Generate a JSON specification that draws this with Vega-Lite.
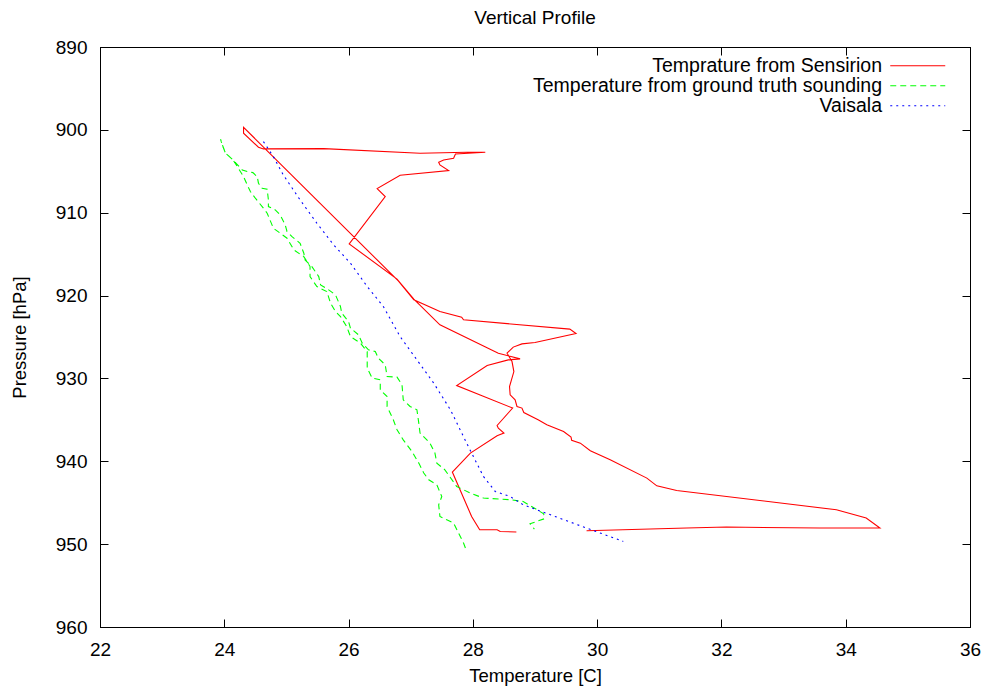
{
  "$schema": "https://vega.github.io/schema/vega-lite/v6.json",
  "width": 870,
  "height": 580,
  "autosize": {"type": "none"},
  "padding": {"left": 100, "top": 47, "right": 20, "bottom": 65},
  "background": "white",
  "config": {
    "font": "Liberation Sans",
    "view": {"stroke": "black", "strokeWidth": 1},
    "axis": {"grid": false, "domainColor": "black", "tickColor": "black", "labelColor": "black", "titleColor": "black", "labelFontSize": 19, "titleFontSize": 18.5, "titleFontWeight": "normal", "tickSize": -8, "labelFont": "Liberation Sans", "titleFont": "Liberation Sans"}
  },
  "title": {"text": "Vertical Profile", "fontSize": 19, "fontWeight": "normal", "font": "Liberation Sans", "color": "black", "offset": 10},
  "data": {"values": [
    {"series": "Temprature from Sensirion", "i": 1, "T": 28.70, "P": 948.54},
    {"series": "Temprature from Sensirion", "i": 2, "T": 28.44, "P": 948.47},
    {"series": "Temprature from Sensirion", "i": 3, "T": 28.39, "P": 948.26},
    {"series": "Temprature from Sensirion", "i": 4, "T": 28.11, "P": 948.26},
    {"series": "Temprature from Sensirion", "i": 5, "T": 27.98, "P": 946.66},
    {"series": "Temprature from Sensirion", "i": 6, "T": 27.67, "P": 941.30},
    {"series": "Temprature from Sensirion", "i": 7, "T": 27.96, "P": 939.01},
    {"series": "Temprature from Sensirion", "i": 8, "T": 28.39, "P": 936.92},
    {"series": "Temprature from Sensirion", "i": 9, "T": 28.50, "P": 936.60},
    {"series": "Temprature from Sensirion", "i": 10, "T": 28.41, "P": 936.00},
    {"series": "Temprature from Sensirion", "i": 11, "T": 28.39, "P": 935.68},
    {"series": "Temprature from Sensirion", "i": 12, "T": 28.64, "P": 933.58},
    {"series": "Temprature from Sensirion", "i": 13, "T": 27.74, "P": 930.86},
    {"series": "Temprature from Sensirion", "i": 14, "T": 28.23, "P": 928.44},
    {"series": "Temprature from Sensirion", "i": 15, "T": 28.57, "P": 927.76},
    {"series": "Temprature from Sensirion", "i": 16, "T": 28.76, "P": 927.64},
    {"series": "Temprature from Sensirion", "i": 17, "T": 28.41, "P": 926.95},
    {"series": "Temprature from Sensirion", "i": 18, "T": 27.47, "P": 923.53},
    {"series": "Temprature from Sensirion", "i": 19, "T": 27.05, "P": 920.43},
    {"series": "Temprature from Sensirion", "i": 20, "T": 26.78, "P": 918.02},
    {"series": "Temprature from Sensirion", "i": 21, "T": 26.01, "P": 913.76},
    {"series": "Temprature from Sensirion", "i": 22, "T": 26.59, "P": 908.06},
    {"series": "Temprature from Sensirion", "i": 23, "T": 26.46, "P": 907.09},
    {"series": "Temprature from Sensirion", "i": 24, "T": 26.83, "P": 905.48},
    {"series": "Temprature from Sensirion", "i": 25, "T": 27.61, "P": 904.92},
    {"series": "Temprature from Sensirion", "i": 26, "T": 27.47, "P": 904.23},
    {"series": "Temprature from Sensirion", "i": 27, "T": 27.45, "P": 903.91},
    {"series": "Temprature from Sensirion", "i": 28, "T": 27.53, "P": 903.63},
    {"series": "Temprature from Sensirion", "i": 29, "T": 27.69, "P": 903.43},
    {"series": "Temprature from Sensirion", "i": 30, "T": 27.72, "P": 902.91},
    {"series": "Temprature from Sensirion", "i": 31, "T": 28.20, "P": 902.70},
    {"series": "Temprature from Sensirion", "i": 32, "T": 27.90, "P": 902.70},
    {"series": "Temprature from Sensirion", "i": 33, "T": 27.15, "P": 902.82},
    {"series": "Temprature from Sensirion", "i": 34, "T": 25.60, "P": 902.27},
    {"series": "Temprature from Sensirion", "i": 35, "T": 24.63, "P": 902.30},
    {"series": "Temprature from Sensirion", "i": 36, "T": 24.55, "P": 902.10},
    {"series": "Temprature from Sensirion", "i": 37, "T": 24.31, "P": 900.41},
    {"series": "Temprature from Sensirion", "i": 38, "T": 24.31, "P": 899.69},
    {"series": "Temprature from Sensirion", "i": 41, "T": 26.80, "P": 918.23},
    {"series": "Temprature from Sensirion", "i": 42, "T": 27.05, "P": 920.50},
    {"series": "Temprature from Sensirion", "i": 43, "T": 27.47, "P": 921.93},
    {"series": "Temprature from Sensirion", "i": 44, "T": 27.82, "P": 922.61},
    {"series": "Temprature from Sensirion", "i": 45, "T": 27.85, "P": 922.93},
    {"series": "Temprature from Sensirion", "i": 46, "T": 29.56, "P": 924.05},
    {"series": "Temprature from Sensirion", "i": 47, "T": 29.66, "P": 924.58},
    {"series": "Temprature from Sensirion", "i": 48, "T": 29.00, "P": 925.67},
    {"series": "Temprature from Sensirion", "i": 49, "T": 28.79, "P": 925.83},
    {"series": "Temprature from Sensirion", "i": 50, "T": 28.65, "P": 926.22},
    {"series": "Temprature from Sensirion", "i": 51, "T": 28.55, "P": 926.95},
    {"series": "Temprature from Sensirion", "i": 52, "T": 28.63, "P": 927.96},
    {"series": "Temprature from Sensirion", "i": 53, "T": 28.66, "P": 929.17},
    {"series": "Temprature from Sensirion", "i": 54, "T": 28.59, "P": 930.98},
    {"series": "Temprature from Sensirion", "i": 55, "T": 28.60, "P": 931.98},
    {"series": "Temprature from Sensirion", "i": 56, "T": 28.68, "P": 932.58},
    {"series": "Temprature from Sensirion", "i": 57, "T": 28.71, "P": 933.39},
    {"series": "Temprature from Sensirion", "i": 58, "T": 28.79, "P": 933.58},
    {"series": "Temprature from Sensirion", "i": 59, "T": 28.82, "P": 934.11},
    {"series": "Temprature from Sensirion", "i": 60, "T": 29.05, "P": 934.99},
    {"series": "Temprature from Sensirion", "i": 61, "T": 29.19, "P": 935.60},
    {"series": "Temprature from Sensirion", "i": 62, "T": 29.46, "P": 936.41},
    {"series": "Temprature from Sensirion", "i": 63, "T": 29.58, "P": 937.08},
    {"series": "Temprature from Sensirion", "i": 64, "T": 29.59, "P": 937.47},
    {"series": "Temprature from Sensirion", "i": 65, "T": 29.73, "P": 937.81},
    {"series": "Temprature from Sensirion", "i": 66, "T": 29.89, "P": 938.73},
    {"series": "Temprature from Sensirion", "i": 67, "T": 30.21, "P": 939.82},
    {"series": "Temprature from Sensirion", "i": 68, "T": 30.80, "P": 942.03},
    {"series": "Temprature from Sensirion", "i": 69, "T": 30.96, "P": 942.96},
    {"series": "Temprature from Sensirion", "i": 70, "T": 31.28, "P": 943.52},
    {"series": "Temprature from Sensirion", "i": 71, "T": 33.85, "P": 945.85},
    {"series": "Temprature from Sensirion", "i": 72, "T": 34.33, "P": 946.85},
    {"series": "Temprature from Sensirion", "i": 73, "T": 34.55, "P": 948.06},
    {"series": "Temprature from Sensirion", "i": 74, "T": 33.58, "P": 948.06},
    {"series": "Temprature from Sensirion", "i": 75, "T": 32.08, "P": 947.94},
    {"series": "Temprature from Sensirion", "i": 76, "T": 31.44, "P": 948.06},
    {"series": "Temprature from Sensirion", "i": 77, "T": 29.83, "P": 948.38},

    {"series": "Temperature from ground truth sounding", "i": 1, "T": 27.88, "P": 950.47},
    {"series": "Temperature from ground truth sounding", "i": 2, "T": 27.85, "P": 949.87},
    {"series": "Temperature from ground truth sounding", "i": 3, "T": 27.77, "P": 948.66},
    {"series": "Temperature from ground truth sounding", "i": 4, "T": 27.69, "P": 947.46},
    {"series": "Temperature from ground truth sounding", "i": 5, "T": 27.58, "P": 947.06},
    {"series": "Temperature from ground truth sounding", "i": 6, "T": 27.47, "P": 946.66},
    {"series": "Temperature from ground truth sounding", "i": 7, "T": 27.45, "P": 945.25},
    {"series": "Temperature from ground truth sounding", "i": 8, "T": 27.50, "P": 944.25},
    {"series": "Temperature from ground truth sounding", "i": 9, "T": 27.42, "P": 942.83},
    {"series": "Temperature from ground truth sounding", "i": 10, "T": 27.29, "P": 942.23},
    {"series": "Temperature from ground truth sounding", "i": 11, "T": 27.21, "P": 941.42},
    {"series": "Temperature from ground truth sounding", "i": 12, "T": 27.13, "P": 940.22},
    {"series": "Temperature from ground truth sounding", "i": 13, "T": 27.02, "P": 938.82},
    {"series": "Temperature from ground truth sounding", "i": 14, "T": 26.88, "P": 937.41},
    {"series": "Temperature from ground truth sounding", "i": 15, "T": 26.78, "P": 936.20},
    {"series": "Temperature from ground truth sounding", "i": 16, "T": 26.72, "P": 934.99},
    {"series": "Temperature from ground truth sounding", "i": 17, "T": 26.62, "P": 933.39},
    {"series": "Temperature from ground truth sounding", "i": 18, "T": 26.62, "P": 932.18},
    {"series": "Temperature from ground truth sounding", "i": 19, "T": 26.51, "P": 931.38},
    {"series": "Temperature from ground truth sounding", "i": 20, "T": 26.51, "P": 930.17},
    {"series": "Temperature from ground truth sounding", "i": 21, "T": 26.38, "P": 929.96},
    {"series": "Temperature from ground truth sounding", "i": 22, "T": 26.30, "P": 928.76},
    {"series": "Temperature from ground truth sounding", "i": 23, "T": 26.30, "P": 926.76},
    {"series": "Temperature from ground truth sounding", "i": 24, "T": 26.19, "P": 925.74},
    {"series": "Temperature from ground truth sounding", "i": 25, "T": 26.03, "P": 924.95},
    {"series": "Temperature from ground truth sounding", "i": 26, "T": 25.97, "P": 923.74},
    {"series": "Temperature from ground truth sounding", "i": 27, "T": 25.87, "P": 922.53},
    {"series": "Temperature from ground truth sounding", "i": 28, "T": 25.79, "P": 921.93},
    {"series": "Temperature from ground truth sounding", "i": 29, "T": 25.71, "P": 920.92},
    {"series": "Temperature from ground truth sounding", "i": 30, "T": 25.65, "P": 919.52},
    {"series": "Temperature from ground truth sounding", "i": 31, "T": 25.49, "P": 918.91},
    {"series": "Temperature from ground truth sounding", "i": 32, "T": 25.38, "P": 917.71},
    {"series": "Temperature from ground truth sounding", "i": 33, "T": 25.38, "P": 916.50},
    {"series": "Temperature from ground truth sounding", "i": 34, "T": 25.28, "P": 915.30},
    {"series": "Temperature from ground truth sounding", "i": 35, "T": 25.12, "P": 914.49},
    {"series": "Temperature from ground truth sounding", "i": 36, "T": 25.01, "P": 913.08},
    {"series": "Temperature from ground truth sounding", "i": 37, "T": 24.90, "P": 912.47},
    {"series": "Temperature from ground truth sounding", "i": 38, "T": 24.79, "P": 911.87},
    {"series": "Temperature from ground truth sounding", "i": 39, "T": 24.69, "P": 910.06},
    {"series": "Temperature from ground truth sounding", "i": 40, "T": 24.63, "P": 909.46},
    {"series": "Temperature from ground truth sounding", "i": 41, "T": 24.50, "P": 908.25},
    {"series": "Temperature from ground truth sounding", "i": 42, "T": 24.42, "P": 907.45},
    {"series": "Temperature from ground truth sounding", "i": 43, "T": 24.37, "P": 906.65},
    {"series": "Temperature from ground truth sounding", "i": 44, "T": 24.31, "P": 905.65},
    {"series": "Temperature from ground truth sounding", "i": 45, "T": 24.21, "P": 904.44},
    {"series": "Temperature from ground truth sounding", "i": 46, "T": 24.14, "P": 903.63},
    {"series": "Temperature from ground truth sounding", "i": 47, "T": 24.07, "P": 903.15},
    {"series": "Temperature from ground truth sounding", "i": 48, "T": 24.02, "P": 902.82},
    {"series": "Temperature from ground truth sounding", "i": 49, "T": 23.99, "P": 902.22},
    {"series": "Temperature from ground truth sounding", "i": 50, "T": 23.96, "P": 901.62},
    {"series": "Temperature from ground truth sounding", "i": 51, "T": 23.94, "P": 901.13},
    {"series": "Temperature from ground truth sounding", "i": 52, "T": 23.97, "P": 901.90},
    {"series": "Temperature from ground truth sounding", "i": 53, "T": 24.02, "P": 902.82},
    {"series": "Temperature from ground truth sounding", "i": 54, "T": 24.14, "P": 903.63},
    {"series": "Temperature from ground truth sounding", "i": 55, "T": 24.29, "P": 904.84},
    {"series": "Temperature from ground truth sounding", "i": 56, "T": 24.37, "P": 905.04},
    {"series": "Temperature from ground truth sounding", "i": 57, "T": 24.46, "P": 905.16},
    {"series": "Temperature from ground truth sounding", "i": 58, "T": 24.53, "P": 905.65},
    {"series": "Temperature from ground truth sounding", "i": 59, "T": 24.55, "P": 906.44},
    {"series": "Temperature from ground truth sounding", "i": 60, "T": 24.61, "P": 907.05},
    {"series": "Temperature from ground truth sounding", "i": 61, "T": 24.69, "P": 907.17},
    {"series": "Temperature from ground truth sounding", "i": 62, "T": 24.71, "P": 908.46},
    {"series": "Temperature from ground truth sounding", "i": 63, "T": 24.71, "P": 909.26},
    {"series": "Temperature from ground truth sounding", "i": 64, "T": 24.82, "P": 909.66},
    {"series": "Temperature from ground truth sounding", "i": 65, "T": 24.90, "P": 910.27},
    {"series": "Temperature from ground truth sounding", "i": 66, "T": 24.98, "P": 911.47},
    {"series": "Temperature from ground truth sounding", "i": 67, "T": 25.01, "P": 912.28},
    {"series": "Temperature from ground truth sounding", "i": 68, "T": 25.09, "P": 912.88},
    {"series": "Temperature from ground truth sounding", "i": 69, "T": 25.22, "P": 913.68},
    {"series": "Temperature from ground truth sounding", "i": 70, "T": 25.28, "P": 914.89},
    {"series": "Temperature from ground truth sounding", "i": 71, "T": 25.30, "P": 915.69},
    {"series": "Temperature from ground truth sounding", "i": 72, "T": 25.41, "P": 916.50},
    {"series": "Temperature from ground truth sounding", "i": 73, "T": 25.52, "P": 917.71},
    {"series": "Temperature from ground truth sounding", "i": 74, "T": 25.55, "P": 918.71},
    {"series": "Temperature from ground truth sounding", "i": 75, "T": 25.68, "P": 919.31},
    {"series": "Temperature from ground truth sounding", "i": 76, "T": 25.79, "P": 919.92},
    {"series": "Temperature from ground truth sounding", "i": 77, "T": 25.87, "P": 921.33},
    {"series": "Temperature from ground truth sounding", "i": 78, "T": 25.89, "P": 922.12},
    {"series": "Temperature from ground truth sounding", "i": 79, "T": 26.00, "P": 923.14},
    {"series": "Temperature from ground truth sounding", "i": 80, "T": 26.03, "P": 923.93},
    {"series": "Temperature from ground truth sounding", "i": 81, "T": 26.16, "P": 924.74},
    {"series": "Temperature from ground truth sounding", "i": 82, "T": 26.22, "P": 925.74},
    {"series": "Temperature from ground truth sounding", "i": 83, "T": 26.32, "P": 926.55},
    {"series": "Temperature from ground truth sounding", "i": 84, "T": 26.43, "P": 926.76},
    {"series": "Temperature from ground truth sounding", "i": 85, "T": 26.48, "P": 927.55},
    {"series": "Temperature from ground truth sounding", "i": 86, "T": 26.59, "P": 928.36},
    {"series": "Temperature from ground truth sounding", "i": 87, "T": 26.62, "P": 929.77},
    {"series": "Temperature from ground truth sounding", "i": 88, "T": 26.78, "P": 929.84},
    {"series": "Temperature from ground truth sounding", "i": 89, "T": 26.86, "P": 930.77},
    {"series": "Temperature from ground truth sounding", "i": 90, "T": 26.88, "P": 932.58},
    {"series": "Temperature from ground truth sounding", "i": 91, "T": 26.99, "P": 933.39},
    {"series": "Temperature from ground truth sounding", "i": 92, "T": 27.10, "P": 933.79},
    {"series": "Temperature from ground truth sounding", "i": 93, "T": 27.13, "P": 935.39},
    {"series": "Temperature from ground truth sounding", "i": 94, "T": 27.15, "P": 936.60},
    {"series": "Temperature from ground truth sounding", "i": 95, "T": 27.31, "P": 937.81},
    {"series": "Temperature from ground truth sounding", "i": 96, "T": 27.39, "P": 939.01},
    {"series": "Temperature from ground truth sounding", "i": 97, "T": 27.42, "P": 940.22},
    {"series": "Temperature from ground truth sounding", "i": 98, "T": 27.55, "P": 941.03},
    {"series": "Temperature from ground truth sounding", "i": 99, "T": 27.74, "P": 943.04},
    {"series": "Temperature from ground truth sounding", "i": 100, "T": 27.96, "P": 943.84},
    {"series": "Temperature from ground truth sounding", "i": 101, "T": 28.17, "P": 944.44},
    {"series": "Temperature from ground truth sounding", "i": 102, "T": 28.60, "P": 944.64},
    {"series": "Temperature from ground truth sounding", "i": 103, "T": 28.81, "P": 944.85},
    {"series": "Temperature from ground truth sounding", "i": 104, "T": 29.14, "P": 946.33},
    {"series": "Temperature from ground truth sounding", "i": 105, "T": 29.15, "P": 946.94},
    {"series": "Temperature from ground truth sounding", "i": 106, "T": 28.92, "P": 947.54},
    {"series": "Temperature from ground truth sounding", "i": 107, "T": 28.99, "P": 948.18},

    {"series": "Vaisala", "i": 1, "T": 24.63, "P": 901.42},
    {"series": "Vaisala", "i": 2, "T": 24.79, "P": 903.23},
    {"series": "Vaisala", "i": 3, "T": 24.95, "P": 905.44},
    {"series": "Vaisala", "i": 4, "T": 25.22, "P": 908.46},
    {"series": "Vaisala", "i": 5, "T": 25.49, "P": 911.27},
    {"series": "Vaisala", "i": 6, "T": 25.76, "P": 913.88},
    {"series": "Vaisala", "i": 7, "T": 26.03, "P": 916.09},
    {"series": "Vaisala", "i": 8, "T": 26.30, "P": 918.91},
    {"series": "Vaisala", "i": 9, "T": 26.56, "P": 921.33},
    {"series": "Vaisala", "i": 10, "T": 26.83, "P": 924.95},
    {"series": "Vaisala", "i": 11, "T": 27.10, "P": 927.76},
    {"series": "Vaisala", "i": 12, "T": 27.37, "P": 930.57},
    {"series": "Vaisala", "i": 13, "T": 27.64, "P": 933.79},
    {"series": "Vaisala", "i": 14, "T": 27.90, "P": 937.81},
    {"series": "Vaisala", "i": 15, "T": 28.17, "P": 941.83},
    {"series": "Vaisala", "i": 16, "T": 28.36, "P": 943.64},
    {"series": "Vaisala", "i": 17, "T": 28.60, "P": 944.25},
    {"series": "Vaisala", "i": 18, "T": 28.81, "P": 945.25},
    {"series": "Vaisala", "i": 19, "T": 29.83, "P": 948.06},
    {"series": "Vaisala", "i": 20, "T": 30.42, "P": 949.67}
  ]},
  "resolve": {"axis": {"x": "independent", "y": "independent"}},
  "layer": [
    {
      "mark": {"type": "line", "strokeWidth": 1.1, "clip": true},
      "encoding": {
        "x": {"field": "T", "type": "quantitative", "scale": {"domain": [22, 36], "nice": false, "zero": false},
              "axis": {"orient": "bottom", "values": [22, 24, 26, 28, 30, 32, 34, 36], "title": "Temperature [C]", "labelPadding": 21, "titlePadding": 7, "labelFlush": false}},
        "y": {"field": "P", "type": "quantitative", "scale": {"domain": [890, 960], "nice": false, "zero": false, "reverse": true},
              "axis": {"orient": "left", "values": [890, 900, 910, 920, 930, 940, 950, 960], "title": "Pressure [hPa]", "labelPadding": 21, "titlePadding": 26}},
        "order": {"field": "i", "type": "quantitative"},
        "color": {"field": "series", "type": "nominal",
                  "scale": {"domain": ["Temprature from Sensirion", "Temperature from ground truth sounding", "Vaisala"], "range": ["#ff0000", "#00ff00", "#0000ff"]},
                  "legend": {"orient": "none", "legendX": 808, "legendY": 9, "title": null, "symbolType": "M-5.5,0H5.5", "symbolSize": 100, "symbolStrokeWidth": 1, "labelAlign": "right", "labelOffset": -45.5, "labelFontSize": 19.5, "labelLimit": 600, "labelColor": "black", "rowPadding": -1, "padding": 0}},
        "strokeDash": {"field": "series", "type": "nominal",
                  "scale": {"domain": ["Temprature from Sensirion", "Temperature from ground truth sounding", "Vaisala"], "range": [[4000, 1], [6, 4], [2, 4]]},
                  "legend": {"orient": "none", "legendX": 808, "legendY": 9, "title": null, "symbolType": "M-5.5,0H5.5", "symbolSize": 100, "symbolStrokeWidth": 1, "labelAlign": "right", "labelOffset": -45.5, "labelFontSize": 19.5, "labelLimit": 600, "labelColor": "black", "rowPadding": -1, "padding": 0}}
      }
    },
    {
      "mark": {"type": "point", "opacity": 0, "size": 1},
      "encoding": {
        "x": {"field": "T", "type": "quantitative", "scale": {"domain": [22, 36], "nice": false, "zero": false},
              "axis": {"orient": "top", "values": [22, 24, 26, 28, 30, 32, 34, 36], "title": null, "labels": false}},
        "y": {"field": "P", "type": "quantitative", "scale": {"domain": [890, 960], "nice": false, "zero": false, "reverse": true},
              "axis": {"orient": "right", "values": [890, 900, 910, 920, 930, 940, 950, 960], "title": null, "labels": false}}
      }
    }
  ]
}
